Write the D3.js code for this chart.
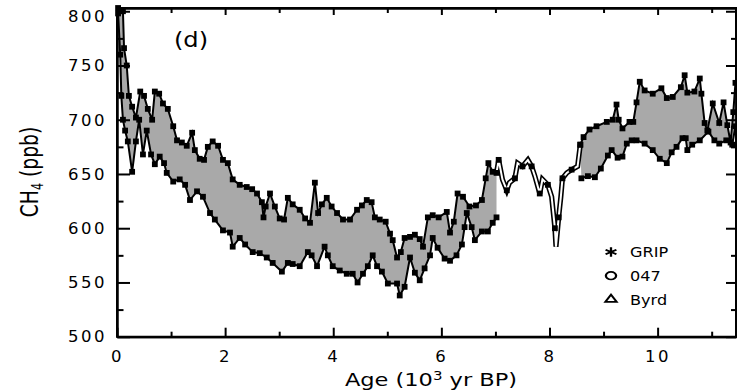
<!DOCTYPE html>
<html><head><meta charset="utf-8">
<script src="https://cdn.jsdelivr.net/npm/d3@7"></script>
<style>body{margin:0;background:#fff} svg{display:block}</style>
</head><body><svg id="c" width="737" height="391"></svg>
<script>
// ---- tick and label arrays ----
const xMajorTicks = [0,2,4,6,8,10];
const xMinorTicks = [1,3,5,7,9,11];
const yMajorTicks = [500,550,600,650,700,750,800];
const yMinorTicks = [525,575,625,675,725,775];
const legendLabels = ["GRIP","047","Byrd"];
const panelLabel = "(d)";

// ---- series: [age (10^3 yr BP), CH4 (ppb)] ----
const gripData = [
[0.02,803],[0.07,801],[0.11,800],[0.13,766],[0.18,750],[0.22,722],[0.28,712],[0.35,702],[0.43,726],[0.50,722],[0.57,710],
[0.65,700],[0.70,726],[0.78,724],[0.85,715],[0.94,710],[1.04,694],[1.11,681],[1.20,679],[1.29,676],[1.39,688],
[1.44,672],[1.53,664],[1.61,663],[1.68,675],[1.77,680],[1.87,676],[1.96,663],[2.05,660],[2.14,645],[2.27,640],
[2.40,638],[2.50,636],[2.59,632],[2.68,624],[2.71,610],[2.75,620],[2.83,632],[2.92,620],[3.01,609],[3.09,608],
[3.16,628],[3.25,622],[3.38,617],[3.48,609],[3.57,605],[3.66,642],[3.72,614],[3.79,622],[3.88,628],[3.97,620],
[4.07,614],[4.18,608],[4.31,608],[4.44,617],[4.53,621],[4.62,626],[4.71,624],[4.77,610],[4.86,608],[4.97,606],
[5.05,595],[5.10,589],[5.18,573],[5.25,578],[5.32,591],[5.42,592],[5.51,594],[5.60,590],[5.66,583],[5.75,610],
[5.84,612],[5.95,610],[6.10,615],[6.16,596],[6.23,606],[6.30,632],[6.40,629],[6.52,620],[6.64,621],[6.75,626],
[6.82,646],[6.87,660],[6.95,652],[7.02,651],
[7.06,663],[7.13,645],[7.21,635],[7.26,642],[7.36,646],[7.41,660],[7.50,657],[7.60,663],[7.67,657],[7.73,648],
[7.82,632],[7.87,645],[7.97,640],[8.04,629],[8.10,600],[8.12,583],[8.17,610],[8.21,629],[8.24,646],[8.32,651],
[8.41,654],[8.52,657],[8.57,677],
[8.63,684],[8.74,691],[8.87,694],[9.06,698],[9.17,700],[9.24,714],[9.28,700],[9.35,692],[9.48,698],[9.55,698],
[9.61,716],[9.67,735],[9.76,727],[9.91,724],[10.07,729],[10.17,720],[10.28,721],[10.43,730],[10.50,741],[10.55,725],
[10.68,726],[10.78,738],[10.81,724],[10.87,697],[10.92,690],[11.02,715],[11.14,697],[11.22,716],[11.29,695],[11.35,679],
[11.40,707],[11.44,734]
];
const antarcticHolocene = [
[0.02,798],[0.06,760],[0.08,722],[0.11,700],[0.15,690],[0.20,680],[0.28,652],[0.35,680],[0.41,700],[0.48,668],
[0.55,690],[0.63,668],[0.70,659],[0.79,666],[0.87,660],[0.92,651],[1.04,643],[1.16,645],[1.26,640],[1.35,626],
[1.48,634],[1.59,629],[1.72,614],[1.81,608],[1.96,598],[2.09,596],[2.14,583],[2.27,591],[2.37,585],[2.51,578],
[2.64,577],[2.77,573],[2.88,568],[3.05,560],[3.16,568],[3.25,567],[3.38,565],[3.53,578],[3.60,575],[3.70,565],
[3.84,583],[3.90,575],[3.99,565],[4.12,561],[4.25,558],[4.36,558],[4.45,550],[4.55,558],[4.64,565],[4.73,575],
[4.81,565],[4.90,560],[5.01,549],[5.18,549],[5.23,538],[5.32,546],[5.42,573],[5.51,559],[5.60,552],[5.69,563],
[5.79,575],[5.84,591],[5.93,582],[6.06,572],[6.16,570],[6.28,575],[6.38,585],[6.43,601],[6.47,614],[6.56,601],
[6.62,589],[6.75,597],[6.86,597],[6.95,605],[7.02,610]
];
const antarcticEarly = [
[8.59,646],[8.71,648],[8.84,647],[8.95,655],[9.08,667],[9.15,672],[9.26,665],[9.35,666],[9.43,678],[9.52,681],
[9.61,681],[9.76,678],[9.91,672],[10.04,664],[10.17,660],[10.26,670],[10.35,675],[10.46,683],[10.52,683],[10.55,672],
[10.64,677],[10.78,681],[10.94,689],[11.05,681],[11.14,678],[11.27,681],[11.38,677],[11.44,694]
];

// ---- drawing ----
const svg = d3.select("#c");
const x = d3.scaleLinear().domain([0, 11.45]).range([117, 736]);
const y = d3.scaleLinear().domain([500, 803]).range([336.7, 8]);
const FONT = "DejaVu Sans";
const X0 = x(0), X1 = x(11.45), Y0 = y(500), Y1 = y(803);

// frame (same construction as the test page that rendered)
svg.append("path").attr("d", `M${X0},${Y1}H${X1}V${Y0}H${X0}Z`)
  .attr("fill","none").attr("stroke","#000").attr("stroke-width",2);

const line = d3.line().x(d => x(d[0])).y(d => y(d[1]));
const endA = antarcticHolocene[antarcticHolocene.length-1][0];
const startB = gripData.find(d => d[0] >= antarcticEarly[0][0] - 0.05)[0];
const gripSeg1 = gripData.filter(d => d[0] <= endA);
const gripGap = gripData.filter(d => d[0] >= endA && d[0] <= startB);
const gripSeg2 = gripData.filter(d => d[0] >= startB);

[[gripSeg1, antarcticHolocene],[gripSeg2, antarcticEarly]].forEach(([up, lo]) => {
  svg.append("path").attr("d", line(up.concat(lo.slice().reverse())) + "Z")
    .attr("fill", "#a9a9a9").attr("stroke", "none");
});
svg.append("path").attr("d", line(gripGap)).attr("fill","none").attr("stroke","#000").attr("stroke-width",5.2);
svg.append("path").attr("d", line(gripGap)).attr("fill","none").attr("stroke","#fff").attr("stroke-width",2);
[gripSeg1, gripSeg2, antarcticHolocene, antarcticEarly].forEach(s => {
  svg.append("path").attr("d", line(s)).attr("fill","none").attr("stroke","#000").attr("stroke-width",2);
});
const ms = 5.8;
svg.append("g").selectAll("rect")
  .data(gripSeg1.concat(gripSeg2, antarcticHolocene, antarcticEarly, gripGap.filter((d,i)=>i%2===1)))
  .join("rect")
  .attr("x", d => x(d[0]) - ms/2).attr("y", d => y(d[1]) - ms/2)
  .attr("width", ms).attr("height", ms).attr("fill","#000");

// axes with inward ticks (plain d3 axes, no text stretching)
function styleAxis(g){
  g.attr("font-family", FONT).attr("font-size", 16.5);
  g.selectAll(".domain").attr("stroke-width",2);
  g.selectAll(".tick line").attr("stroke-width",2);
  g.selectAll(".tick text").attr("letter-spacing", 2.5);
}
svg.append("g").attr("transform",`translate(0,${Y0})`)
  .call(d3.axisBottom(x).tickValues(xMajorTicks).tickSizeInner(-9).tickSizeOuter(0).tickPadding(13.5).tickFormat(d3.format("d")))
  .call(styleAxis);
svg.append("g").attr("transform",`translate(0,${Y0})`)
  .call(d3.axisBottom(x).tickValues(xMinorTicks).tickSizeInner(-5).tickSizeOuter(0).tickFormat(""))
  .call(styleAxis);
svg.append("g").attr("transform",`translate(0,${Y1})`)
  .call(d3.axisTop(x).tickValues(xMajorTicks).tickSizeInner(-7).tickSizeOuter(0).tickFormat(""))
  .call(styleAxis);
svg.append("g").attr("transform",`translate(0,${Y1})`)
  .call(d3.axisTop(x).tickValues(xMinorTicks).tickSizeInner(-5).tickSizeOuter(0).tickFormat(""))
  .call(styleAxis);
const gy = svg.append("g").attr("transform",`translate(${X0},0)`)
  .call(d3.axisLeft(y).tickValues(yMajorTicks).tickSizeInner(-13).tickSizeOuter(0).tickPadding(10).tickFormat(d3.format("d")))
  .call(styleAxis);
gy.selectAll(".tick text").filter(d => d === 800).attr("dy","0.62em");
svg.append("g").attr("transform",`translate(${X0},0)`)
  .call(d3.axisLeft(y).tickValues(yMinorTicks).tickSizeInner(-6.5).tickSizeOuter(0).tickFormat(""))
  .call(styleAxis);
svg.append("g").attr("transform",`translate(${X1},0)`)
  .call(d3.axisRight(y).tickValues(yMajorTicks).tickSizeInner(-10).tickSizeOuter(0).tickFormat(""))
  .call(styleAxis);
svg.append("g").attr("transform",`translate(${X1},0)`)
  .call(d3.axisRight(y).tickValues(yMinorTicks).tickSizeInner(-5).tickSizeOuter(0).tickFormat(""))
  .call(styleAxis);

// titles (stretched with transforms instead of textLength)
svg.append("text").attr("transform","translate(431,386) scale(1.25,1)").attr("text-anchor","middle")
  .attr("font-family", FONT).attr("font-size", 18).attr("fill","#000")
  .html('Age (10<tspan dy="-6" font-size="12">3</tspan><tspan dy="6"> yr BP)</tspan>');
svg.append("text").attr("transform","translate(38,172) rotate(-90) scale(0.75,1)").attr("text-anchor","middle")
  .attr("font-family", FONT).attr("font-size", 25).attr("fill","#000")
  .html('CH<tspan dy="5" font-size="15">4</tspan><tspan dy="-5"> (ppb)</tspan>');
svg.append("text").attr("transform","translate(191,47) scale(1.15,1)").attr("text-anchor","middle")
  .attr("font-family", FONT).attr("font-size", 21).attr("fill","#000").text(panelLabel);

// legend
const symbols = [d3.symbolAsterisk, d3.symbolCircle, d3.symbolTriangle2];
const symSizes = [60, 45, 50];
legendLabels.forEach((lab, i) => {
  const cy = 252 + i * 23.7;
  svg.append("path").attr("d", d3.symbol(symbols[i], symSizes[i])())
    .attr("transform", `translate(611,${cy}) scale(1.35,1)`)
    .attr("fill","none").attr("stroke","#000").attr("stroke-width",1.7);
  svg.append("text").attr("transform", `translate(630,${cy+5.2}) scale(1.15,1)`)
    .attr("font-family", FONT).attr("font-size", 14).attr("fill","#000").text(lab);
});
</script></body></html>
